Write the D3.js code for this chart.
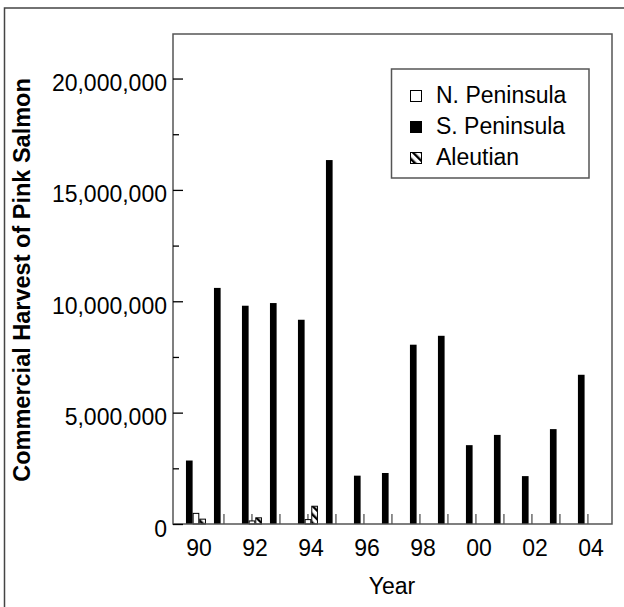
<!DOCTYPE html>
<html>
  <head>
    <script src="https://d3js.org/d3.v7.min.js"></script>
    <style>
      body { margin: 0; background: #fff; }
      text { font-family: "Liberation Sans", Arial, sans-serif; }
    </style>
  </head>
  <body>
    <script>
    // harvest counts by year
    var years = [1990, 1991, 1992, 1993, 1994, 1995, 1996, 1997, 1998, 1999, 2000, 2001, 2002, 2003, 2004];
    var sPeninsula = [2850000, 10600000, 9800000, 9920000, 9170000, 16340000, 2170000, 2290000,
                      8050000, 8450000, 3540000, 4000000, 2150000, 4260000, 6700000];
    var nPeninsula = [500000, null, 160000, null, 220000, null, null, null, null, null, null, null, null, null, null];
    var aleutian = [240000, null, 300000, null, 820000, null, null, null, null, null, null, null, null, null, null];
    var seriesNames = ["S. Peninsula", "N. Peninsula", "Aleutian"];
    var legendNames = ["N. Peninsula", "S. Peninsula", "Aleutian"];
    var yTickValues = [0, 5000000, 10000000, 15000000, 20000000];
    var xLabelYears = [1990, 1992, 1994, 1996, 1998, 2000, 2002, 2004];

    var w = 624, h = 607;
    var pLeft = 173, pRight = 612, pTop = 34, pBottom = 524;

    var svg = d3.select("body").append("svg")
      .attr("width", w)
      .attr("height", h);

    // hatch for the Aleutian bars
    var defs = svg.append("defs");
    var pat = defs.append("pattern")
      .attr("id", "hatch")
      .attr("patternUnits", "userSpaceOnUse")
      .attr("width", 6).attr("height", 6)
      .attr("patternTransform", "rotate(-45)");
    pat.append("rect").attr("width", 6).attr("height", 6).attr("fill", "#fff");
    pat.append("rect").attr("x", 0).attr("width", 2.4).attr("height", 6).attr("fill", "#000");

    // outer frame
    svg.append("rect")
      .attr("x", 4.5).attr("y", 8)
      .attr("width", 640).attr("height", 640)
      .attr("fill", "none")
      .attr("stroke", "#444")
      .attr("stroke-width", 1.5);

    var x = d3.scaleLinear()
      .domain([1989.18, 2004.86])
      .range([pLeft, pRight]);

    var y = d3.scaleLinear()
      .domain([0, 22000000])
      .range([pBottom, pTop]);

    // three bars side by side around each year
    var step = x(1991) - x(1990);
    var sub = d3.scaleBand()
      .domain(seriesNames)
      .range([-0.357 * step, 0.357 * step]);

    var rows = [];
    years.forEach(function(yr, i) {
      rows.push({ year: yr, key: "S. Peninsula", v: sPeninsula[i] });
      if (nPeninsula[i] != null) rows.push({ year: yr, key: "N. Peninsula", v: nPeninsula[i] });
      if (aleutian[i] != null) rows.push({ year: yr, key: "Aleutian", v: aleutian[i] });
    });

    function fillOf(k) {
      if (k == "S. Peninsula") return "#000";
      if (k == "N. Peninsula") return "#fff";
      return "url(#hatch)";
    }

    // year ticks inside the plot (drawn first, bars cover some)
    svg.append("g")
      .selectAll("line")
      .data(years)
      .enter()
      .append("line")
      .attr("x1", function(d) { return x(d); })
      .attr("x2", function(d) { return x(d); })
      .attr("y1", pBottom)
      .attr("y2", pBottom - 10)
      .attr("stroke", "#555")
      .attr("stroke-width", 1.3);

    svg.append("g")
      .selectAll("rect")
      .data(rows)
      .enter()
      .append("rect")
      .attr("x", function(d) { return x(d.year) + sub(d.key) + (d.key == "S. Peninsula" ? 0 : 0.5); })
      .attr("y", function(d) { return y(d.v) + (d.key == "S. Peninsula" ? 0 : 0.5); })
      .attr("width", function(d) { return sub.bandwidth() - (d.key == "S. Peninsula" ? 0 : 1); })
      .attr("height", function(d) { return pBottom - y(d.v) - (d.key == "S. Peninsula" ? 0 : 0.5); })
      .attr("fill", function(d) { return fillOf(d.key); })
      .attr("stroke", function(d) { return d.key == "S. Peninsula" ? "none" : "#000"; })
      .attr("stroke-width", 1);

    // plot frame
    svg.append("rect")
      .attr("x", pLeft).attr("y", pTop)
      .attr("width", pRight - pLeft).attr("height", pBottom - pTop)
      .attr("fill", "none")
      .attr("stroke", "#555")
      .attr("stroke-width", 1.5);

    // y axis, ticks pointing inwards
    var yAxis = d3.axisRight(y)
      .tickValues(d3.range(0, 22000001, 2500000))
      .tickSize(6)
      .tickFormat("");
    var yg = svg.append("g").attr("transform", "translate(" + pLeft + ",0)").call(yAxis);
    yg.select(".domain").remove();
    yg.selectAll(".tick line")
      .attr("x2", function(d) { return d % 5000000 == 0 ? 10 : 6; })
      .attr("stroke", "#000")
      .attr("stroke-width", 1.3);

    svg.append("g")
      .selectAll("text")
      .data(yTickValues)
      .enter()
      .append("text")
      .attr("x", pLeft - 6)
      .attr("y", function(d) { return y(d) + 12.5; })
      .attr("text-anchor", "end")
      .attr("font-size", "23px")
      .attr("fill", "#000")
      .text(function(d) { return d3.format(",")(d); });

    // x labels
    svg.append("g")
      .selectAll("text")
      .data(xLabelYears)
      .enter()
      .append("text")
      .attr("x", function(d) { return x(d) + 3; })
      .attr("y", 556)
      .attr("text-anchor", "middle")
      .attr("font-size", "23px")
      .text(function(d) { return d3.format("02")(d % 100); });

    svg.append("text")
      .attr("x", 392)
      .attr("y", 594)
      .attr("text-anchor", "middle")
      .attr("font-size", "23px")
      .text("Year");

    svg.append("text")
      .attr("transform", "translate(30,280) rotate(-90)")
      .attr("text-anchor", "middle")
      .attr("font-size", "23.5px")
      .attr("font-weight", "bold")
      .text("Commercial Harvest of Pink Salmon");

    // legend
    var lg = svg.append("g");
    lg.append("rect")
      .attr("x", 391.5).attr("y", 69)
      .attr("width", 197.5).attr("height", 109)
      .attr("fill", "#fff")
      .attr("stroke", "#555")
      .attr("stroke-width", 1.5);

    var items = lg.selectAll("g.item")
      .data(legendNames)
      .enter()
      .append("g")
      .attr("class", "item")
      .attr("transform", function(d, i) { return "translate(0," + (95 + i * 31) + ")"; });

    items.append("rect")
      .attr("x", 410.5).attr("y", -4.5)
      .attr("width", 11).attr("height", 11)
      .attr("fill", function(d) { return fillOf(d); })
      .attr("stroke", "#000")
      .attr("stroke-width", 1);

    items.append("text")
      .attr("x", 436)
      .attr("y", 8)
      .attr("font-size", "23px")
      .text(function(d) { return d; });

    </script>
  </body>
</html>
